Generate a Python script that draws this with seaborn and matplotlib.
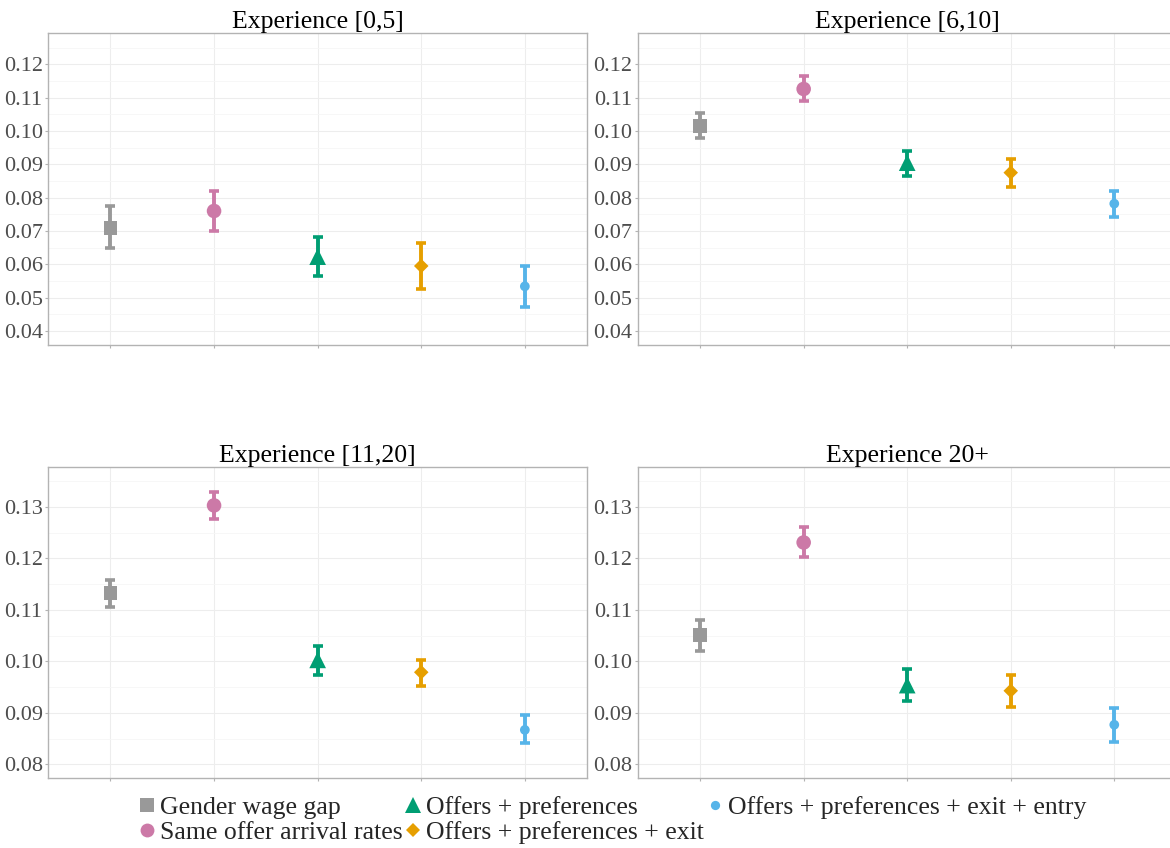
import numpy as np
import pandas as pd
import matplotlib
matplotlib.use("Agg")
import matplotlib.pyplot as plt
from matplotlib.lines import Line2D
from matplotlib.ticker import MultipleLocator, FormatStrFormatter
import seaborn as sns

# Decomposition scenarios (x axis order) and experience groups (panels)
scenarios = [
    "Gender wage gap",
    "Same offer arrival rates",
    "Offers + preferences",
    "Offers + preferences + exit",
    "Offers + preferences + exit + entry",
]
panels = ["Experience [0,5]", "Experience [6,10]", "Experience [11,20]", "Experience 20+"]

# Point estimates per panel (same order as scenarios)
est_0_5 = [0.0710, 0.0760, 0.0623, 0.0595, 0.0534]
est_6_10 = [0.1016, 0.1126, 0.0905, 0.0875, 0.0782]
est_11_20 = [0.1133, 0.1303, 0.1003, 0.0979, 0.0867]
est_20p = [0.1051, 0.1231, 0.0954, 0.0943, 0.0877]

# Lower / upper confidence bounds
lo_0_5 = [0.0648, 0.0701, 0.0564, 0.0527, 0.0473]
hi_0_5 = [0.0774, 0.0820, 0.0683, 0.0663, 0.0596]
lo_6_10 = [0.0980, 0.1089, 0.0866, 0.0832, 0.0742]
hi_6_10 = [0.1055, 0.1165, 0.0941, 0.0917, 0.0820]
lo_11_20 = [0.1106, 0.1277, 0.0974, 0.0953, 0.0841]
hi_11_20 = [0.1159, 0.1330, 0.1030, 0.1003, 0.0895]
lo_20p = [0.1021, 0.1202, 0.0923, 0.0912, 0.0844]
hi_20p = [0.1081, 0.1262, 0.0986, 0.0973, 0.0910]

colors = ["#999999", "#CC79A7", "#009E73", "#E69F00", "#56B4E9"]
markers = ["s", "o", "^", "D", "o"]
msizes = [10.0, 10.5, 12.0, 7.4, 7.0]  # marker sizes in points

rows = []
for panel, est, lo, hi in zip(
    panels,
    [est_0_5, est_6_10, est_11_20, est_20p],
    [lo_0_5, lo_6_10, lo_11_20, lo_20p],
    [hi_0_5, hi_6_10, hi_11_20, hi_20p],
):
    for i, s in enumerate(scenarios):
        rows.append(dict(panel=panel, scenario=s, pos=i, est=est[i], lo=lo[i], hi=hi[i]))
df = pd.DataFrame(rows)

sns.set_theme(style="white")
plt.rcParams["font.family"] = ["Liberation Serif", "DejaVu Serif"]

fig = plt.figure(figsize=(11.7, 8.48), dpi=100)

W, H = 1170.0, 848.0
boxes = {
    panels[0]: (48.3, 33.3, 587.0, 345.0),
    panels[1]: (638.0, 33.3, 1176.4, 345.0),
    panels[2]: (48.3, 467.3, 587.0, 778.3),
    panels[3]: (638.0, 467.3, 1176.4, 778.3),
}
ylims = {
    panels[0]: (0.0358, 0.1293),
    panels[1]: (0.0358, 0.1293),
    panels[2]: (0.0773, 0.1377),
    panels[3]: (0.0773, 0.1377),
}

border = "#B3B3B3"
grid_major = "#EDEDED"
grid_minor = "#F6F6F6"

for panel in panels:
    x0, y0, x1, y1 = boxes[panel]
    ax = fig.add_axes([x0 / W, 1 - y1 / H, (x1 - x0) / W, (y1 - y0) / H])
    sub = df[df.panel == panel]

    # confidence intervals
    for _, r in sub.iterrows():
        k = int(r.pos)
        ax.errorbar(r.pos, r.est, yerr=[[r.est - r.lo], [r.hi - r.est]],
                    fmt="none", ecolor=colors[k], elinewidth=2.8,
                    capsize=3.6, capthick=2.6, zorder=3)

    # point estimates
    sns.scatterplot(data=sub, x="pos", y="est", hue="scenario", style="scenario",
                    size="scenario", hue_order=scenarios, style_order=scenarios,
                    size_order=scenarios,
                    palette=dict(zip(scenarios, colors)),
                    markers=dict(zip(scenarios, markers)),
                    sizes=dict(zip(scenarios, [m ** 2 for m in msizes])),
                    linewidth=0, legend=False, ax=ax, zorder=4)

    ax.set_xlim(-0.6, len(scenarios) - 0.4)
    ax.set_ylim(*ylims[panel])
    ax.set_xticks(range(len(scenarios)))
    ax.set_xticklabels([])
    ax.yaxis.set_major_locator(MultipleLocator(0.01))
    ax.yaxis.set_minor_locator(MultipleLocator(0.005))
    ax.yaxis.set_major_formatter(FormatStrFormatter("%.2f"))
    ax.set_xlabel("")
    ax.set_ylabel("")

    ax.grid(True, which="major", color=grid_major, linewidth=0.8, zorder=0)
    ax.grid(True, which="minor", axis="y", color=grid_minor, linewidth=0.6, zorder=0)
    ax.set_axisbelow(True)
    for sp in ax.spines.values():
        sp.set_color(border)
        sp.set_linewidth(1.0)
    ax.tick_params(axis="both", which="major", length=2.5, width=0.8, color=border,
                   pad=1.5, labelsize=16, labelcolor="#4D4D4D",
                   bottom=True, left=True)
    ax.tick_params(axis="y", which="minor", length=0)
    ax.set_title(panel, fontsize=18.5, color="black", pad=3)

handles = [
    Line2D([], [], linestyle="none", marker=m, color=c, markersize=s * 0.95, markeredgewidth=0)
    for m, c, s in zip(markers, colors, msizes)
]
fig.legend(handles, scenarios, loc="upper center", ncol=3,
           bbox_to_anchor=(612 / W, 1 - 796 / H), frameon=False,
           fontsize=18.5, handlelength=0.7, handletextpad=0.15,
           columnspacing=0.07, labelspacing=0.07, borderpad=0, borderaxespad=0)

fig.savefig("out.png", dpi=100)
